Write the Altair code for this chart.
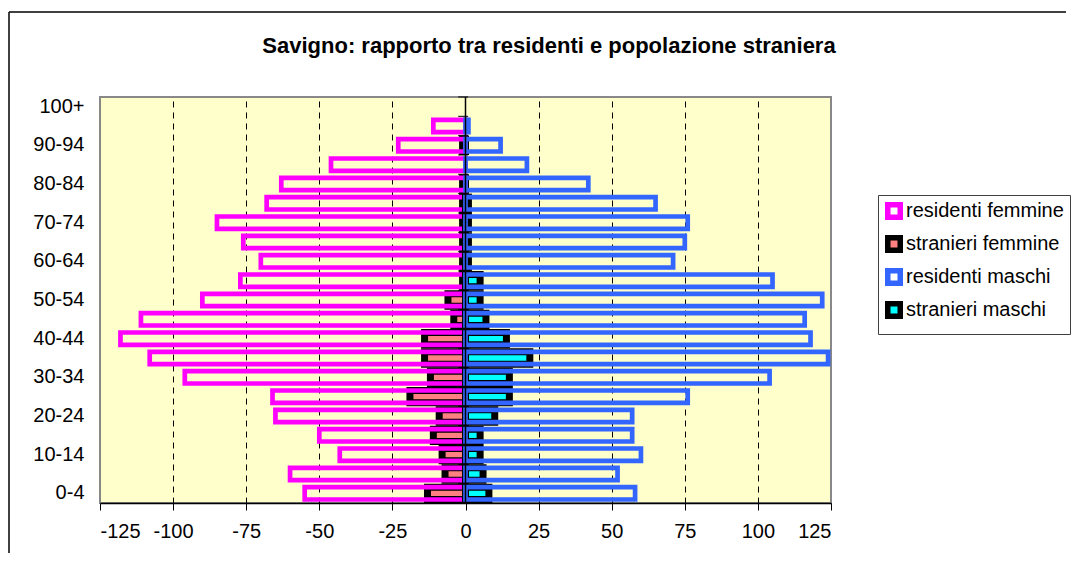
import altair as alt
import pandas as pd

# ---- data ----
ages = ["0-4", "5-9", "10-14", "15-19", "20-24", "25-29", "30-34", "35-39",
        "40-44", "45-49", "50-54", "55-59", "60-64", "65-69", "70-74", "75-79",
        "80-84", "85-89", "90-94", "95-99", "100+"]
residenti_femmine = [55, 60, 43, 50, 65, 66, 96, 108, 118, 111, 90, 77, 70, 76, 85, 68, 63, 46, 23, 11, 0]
stranieri_femmine = [13, 7, 8, 11, 9, 19, 12, 14, 14, 4, 6, 1, 1, 1, 1, 1, 1, 0, 1, 0, 0]
residenti_maschi = [58, 52, 60, 57, 57, 76, 104, 124, 118, 116, 122, 105, 71, 75, 76, 65, 42, 21, 12, 1, 0]
stranieri_maschi = [8, 6, 5, 5, 10, 15, 15, 22, 14, 7, 5, 5, 1, 1, 1, 1, 0, 0, 0, 0, 0]
x_ticks = [-125, -100, -75, -50, -25, 0, 25, 50, 75, 100, 125]
series_names = ["residenti femmine", "stranieri femmine", "residenti maschi", "stranieri maschi"]
title_text = "Savigno: rapporto tra residenti e popolazione straniera"

rows = []
for name, vals, sign in [(series_names[0], residenti_femmine, -1),
                         (series_names[1], stranieri_femmine, -1),
                         (series_names[2], residenti_maschi, 1),
                         (series_names[3], stranieri_maschi, 1)]:
    for a, v in zip(ages, vals):
        rows.append({"age": a, "series": name, "value": sign * v})
df = pd.DataFrame(rows)
one = pd.DataFrame({"k": [0]})
age_df = pd.DataFrame({"age": ages})

FONT = "Liberation Sans"
W, H = 731, 406
age_order = ages[::-1]


def y_enc(**kw):
    return alt.Y("age:N",
                 scale=alt.Scale(domain=age_order, paddingInner=0.36, paddingOuter=0.18),
                 axis=alt.Axis(title=None, values=age_order[::2], labelFont=FONT,
                               labelFontSize=20, labelColor="black", labelPadding=16,
                               ticks=False, domain=False, grid=False),
                 **kw)


x_scale = alt.Scale(domain=[-125, 125], nice=False)
x_enc = alt.X("value:Q", scale=x_scale,
              axis=alt.Axis(title=None, values=x_ticks, labelExpr="'' + datum.value",
                            labelFont=FONT, labelFontSize=20, labelColor="black",
                            labelPadding=11, tickSize=7, tickColor="black", tickWidth=1,
                            domainColor="black", domainWidth=1.5,
                            grid=True, gridColor="black", gridDash=[6, 5], gridWidth=1,
                            gridOpacity={"condition": {"test": "datum.value === 0 || abs(datum.value) === 125",
                                                       "value": 0}, "value": 1}))

leg = alt.Legend(title=None, orient="none", legendX=778, legendY=98,
                 fillColor="white", strokeColor="#404040", padding=6, rowPadding=-3,
                 symbolType="square", symbolSize=156, symbolStrokeWidth=5.5,
                 symbolFillColor="white", labelFont=FONT, labelFontSize=20,
                 labelColor="black", labelOffset=2, labelLimit=400)
fill_enc = alt.Fill("series:N", scale=alt.Scale(domain=series_names,
                    range=["transparent", "#FF8080", "transparent", "#00FFFF"]), legend=leg)
stroke_enc = alt.Stroke("series:N", scale=alt.Scale(domain=series_names,
                        range=["#FF00FF", "black", "#3366FF", "black"]), legend=leg)


def bars(name, sw):
    return (alt.Chart(df)
            .transform_filter(alt.datum.series == name)
            .transform_filter("datum.value != 0")
            .mark_bar(strokeWidth=sw)
            .encode(x=x_enc, y=y_enc(), fill=fill_enc, stroke=stroke_enc))


zero_line = alt.Chart(one).mark_rule(color="black", strokeWidth=1.5).encode(x=alt.datum(0))
cross_ticks = (alt.Chart(age_df).mark_rule(color="black", strokeWidth=1)
               .encode(y=y_enc(bandPosition=0), yOffset=alt.value(-3.5),
                       x=alt.datum(-2.5), x2=alt.datum(0.9)))
border_top = (alt.Chart(one).mark_rule(color="black", strokeWidth=1.5)
              .encode(x=alt.value(-91), x2=alt.value(966), y=alt.value(-85)))
border_left = (alt.Chart(one).mark_rule(color="black", strokeWidth=1.5)
               .encode(x=alt.value(-91), y=alt.value(-85), y2=alt.value(456)))
title = (alt.Chart(one)
         .mark_text(text=title_text, font=FONT, fontSize=22, fontWeight="bold",
                    color="black", align="center", baseline="alphabetic")
         .encode(x=alt.value(449), y=alt.value(-44)))

chart = (alt.layer(bars(series_names[1], 7), bars(series_names[0], 4.7),
                   bars(series_names[3], 7), bars(series_names[2], 4.7),
                   zero_line, cross_ticks, border_top, border_left, title)
         .properties(width=W, height=H, background="white",
                     padding={"left": 0, "top": 3, "right": 0, "bottom": 0})
         .configure_view(fill="#FFFFCC", stroke="#888888", strokeWidth=2))

chart.save("out.html", embed_options={"renderer": "svg", "actions": False})
